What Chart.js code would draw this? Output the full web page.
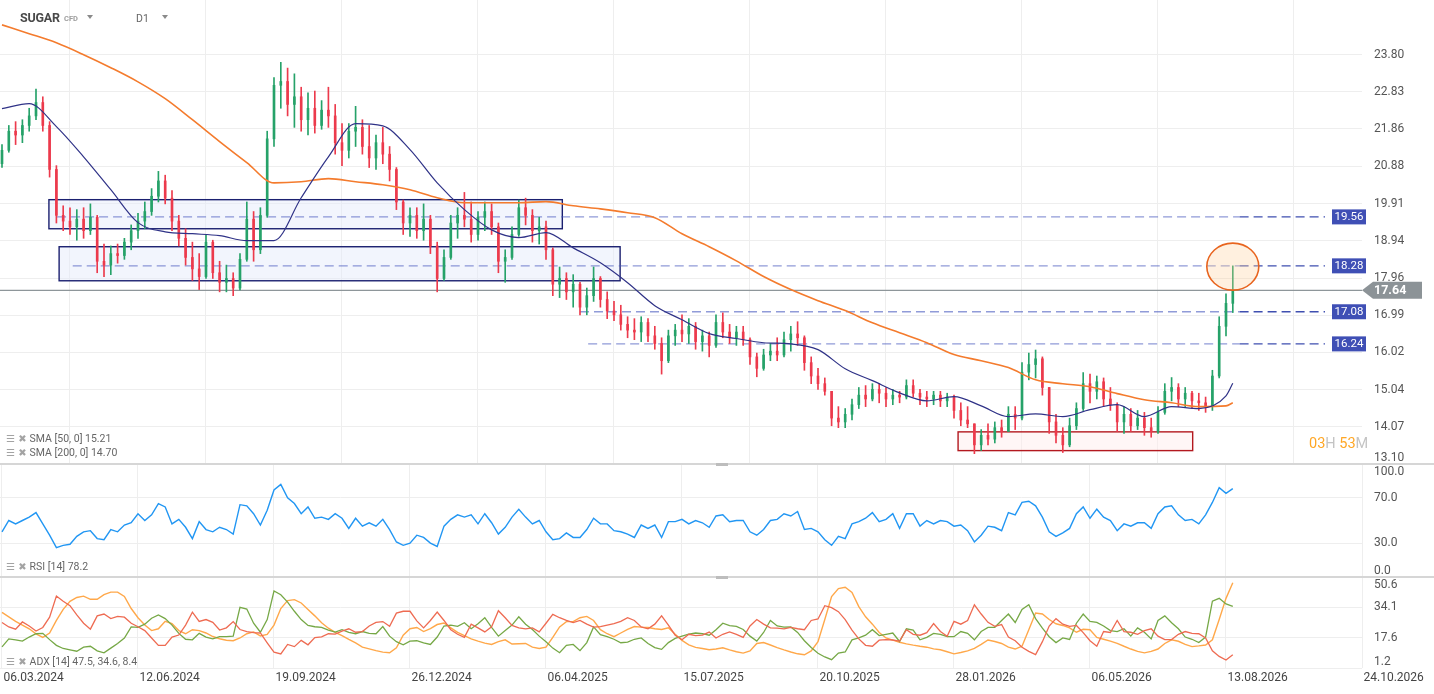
<!DOCTYPE html>
<html>
<head>
<meta charset="utf-8">
<script src="https://cdn.jsdelivr.net/npm/chart.js@4.4.1/dist/chart.umd.min.js"></script>
<style>
  html, body { margin: 0; padding: 0; background: #fff; }
  body { width: 1434px; height: 694px; position: relative; overflow: hidden; font-family: Roboto, "DejaVu Sans", sans-serif; }
  .pane { position: absolute; left: 0; width: 1434px; }
  #main-pane { top: 0; height: 464px; }
  #rsi-pane { top: 464px; height: 113px; }
  #adx-pane { top: 577px; height: 117px; }
  .sep { position: absolute; left: 0; width: 1434px; height: 2px; background: #d6d6d6; }
  .handle { position: absolute; left: 716px; width: 12px; height: 3px; background: #bdbdbd; }
  .txt { position: absolute; white-space: nowrap; line-height: 1; }
  .legend { left: 6px; font-size: 10.5px; color: #666; }
  .legend .ic { color: #a3a3a3; font-family: "DejaVu Sans", sans-serif; font-size: 10px; margin-right: 3px; }
  .caret { position: absolute; width: 0; height: 0; border-left: 3.5px solid transparent; border-right: 3.5px solid transparent; border-top: 4px solid #8a8a8a; }
</style>
</head>
<body>
<div class="pane" id="main-pane"><canvas id="main-chart"></canvas></div>
<div class="pane" id="rsi-pane"><canvas id="rsi-chart"></canvas></div>
<div class="pane" id="adx-pane"><canvas id="adx-chart"></canvas></div>

<div class="sep" style="top:463px"></div>
<div class="sep" style="top:576px"></div>
<div class="handle" style="top:463px"></div>
<div class="handle" style="top:576px"></div>

<div class="txt" style="left:20px; top:12px; font-size:12.5px; font-weight:bold; color:#4a4a4a; letter-spacing:-0.2px;">SUGAR</div>
<div class="txt" style="left:64px; top:15px; font-size:7.5px; font-weight:bold; color:#9e9e9e;">CFD</div>
<div class="caret" style="left:87px; top:15px;"></div>
<div class="txt" style="left:136px; top:14px; font-size:10.5px; color:#666;">D1</div>
<div class="caret" style="left:162px; top:15px;"></div>

<div class="txt legend" style="top:434px"><span class="ic">☰ ✖</span>SMA [50, 0] 15.21</div>
<div class="txt legend" style="top:448px"><span class="ic">☰ ✖</span>SMA [200, 0] 14.70</div>
<div class="txt legend" style="top:562px"><span class="ic">☰ ✖</span>RSI [14] 78.2</div>
<div class="txt legend" style="top:657px"><span class="ic">☰ ✖</span>ADX [14] 47.5, 34.6, 8.4</div>

<div class="txt" style="left:1309px; top:437px; font-size:14.5px;"><span style="color:#ffa726">03</span><span style="color:#c4c4c4">H </span><span style="color:#ffa726">53</span><span style="color:#c4c4c4">M</span></div>

<script>
// tick labels
const dateLabels = ["06.03.2024", "12.06.2024", "19.09.2024", "26.12.2024", "06.04.2025", "15.07.2025",
  "20.10.2025", "28.01.2026", "06.05.2026", "13.08.2026", "24.10.2026"];
const priceTicks = [23.80, 22.83, 21.86, 20.88, 19.91, 18.94, 17.96, 16.99, 16.02, 15.04, 14.07, 13.10];
const rsiTicks = [100, 70, 30, 0];
const adxTicks = [50.6, 34.1, 17.6, 1.2];

// candles (one every ~3.5 sessions)
const opens = [
  20.95, 21.30, 21.80, 21.70, 21.95, 22.20, 22.55, 21.95, 20.80, 19.60,
  19.45, 19.30, 19.50, 19.20, 19.55, 18.40, 18.30, 18.60, 18.55, 18.90,
  19.20, 19.45, 19.70, 20.10, 20.50, 20.05, 19.45, 19.00, 18.50, 18.20,
  18.00, 18.90, 18.10, 17.85, 17.95, 17.70, 18.45, 19.50, 18.70, 19.60,
  21.60, 23.00, 23.10, 22.50, 22.70, 22.10, 22.40, 21.95, 22.35, 22.20,
  21.50, 21.30, 21.80, 21.90, 21.40, 21.10, 21.50, 21.20, 20.80, 19.95,
  19.40, 19.60, 19.20, 19.50, 18.80, 17.95, 18.50, 19.40, 19.60, 19.50,
  19.10, 19.55, 19.70, 19.30, 18.40, 18.50, 19.10, 19.80, 19.60, 19.20,
  19.30, 18.70, 17.80, 17.95, 17.60, 17.80, 17.20, 17.50, 17.95, 17.40,
  17.10, 17.00, 16.75, 16.60, 16.55, 16.80, 16.45, 16.25, 15.80, 16.45,
  16.60, 16.50, 16.70, 16.30, 16.45, 16.20, 16.80, 16.55, 16.40, 16.55,
  16.35, 15.90, 15.60, 15.95, 16.05, 15.95, 16.35, 16.50, 16.40, 15.75,
  15.40, 15.20, 15.00, 14.30, 14.20, 14.40, 14.65, 14.90, 14.80, 15.05,
  14.95, 14.80, 14.90, 14.85, 15.15, 14.95, 14.85, 14.80, 14.90, 14.75,
  14.85, 14.50, 14.25, 14.15, 13.60, 13.85, 13.75, 14.05, 13.95, 14.40,
  14.30, 15.50, 15.70, 15.85, 15.10, 14.20, 13.85, 13.60, 14.10, 14.55,
  15.20, 15.00, 15.25, 14.80, 14.65, 14.20, 14.40, 14.10, 14.30, 14.05,
  13.95, 14.45, 15.00, 15.10, 14.80, 14.95, 14.75, 14.70, 14.60, 15.40,
  16.70, 17.30
];
const highs = [
  21.45, 21.95, 22.05, 22.10, 22.40, 22.90, 22.70, 22.05, 20.90, 19.85,
  19.80, 19.75, 19.80, 19.90, 19.60, 18.85, 18.80, 18.85, 19.00, 19.35,
  19.65, 19.95, 20.30, 20.75, 20.65, 20.25, 19.60, 19.25, 18.90, 18.60,
  19.10, 18.95, 18.40, 18.30, 18.10, 18.60, 19.95, 19.70, 19.80, 21.80,
  23.20, 23.60, 23.45, 23.30, 22.95, 22.80, 22.85, 22.60, 22.95, 22.50,
  22.00, 22.00, 22.45, 22.10, 21.95, 21.70, 21.90, 21.40, 20.85, 20.00,
  19.80, 19.80, 19.90, 19.60, 18.90, 18.70, 19.60, 19.80, 20.20, 19.95,
  19.70, 19.95, 19.90, 19.40, 18.70, 19.30, 20.00, 20.05, 19.75, 19.55,
  19.45, 18.75, 18.25, 18.10, 18.05, 17.85, 17.70, 18.25, 18.00, 17.60,
  17.35, 17.25, 16.95, 16.90, 16.95, 16.90, 16.70, 16.40, 16.60, 16.75,
  17.00, 16.90, 16.80, 16.60, 16.55, 17.00, 17.05, 16.75, 16.70, 16.70,
  16.40, 16.00, 16.10, 16.25, 16.40, 16.55, 16.70, 16.82, 16.45, 15.90,
  15.60, 15.35, 15.00, 14.60, 14.55, 14.80, 15.10, 15.15, 15.20, 15.20,
  15.10, 15.05, 15.00, 15.30, 15.30, 15.05, 15.00, 15.00, 15.00, 14.95,
  14.90, 14.70, 14.60, 14.15, 14.00, 14.15, 14.20, 14.25, 14.60, 14.60,
  15.75, 16.00, 16.08, 15.90, 15.10, 14.40, 14.05, 14.30, 14.70, 15.49,
  15.45, 15.40, 15.35, 15.10, 14.70, 14.60, 14.55, 14.50, 14.45, 14.30,
  14.60, 15.20, 15.36, 15.20, 15.10, 15.00, 14.95, 14.85, 15.55, 16.95,
  17.55, 18.28
];
const lows = [
  20.85, 21.25, 21.45, 21.50, 21.80, 22.10, 21.80, 20.60, 19.40, 19.20,
  19.10, 18.95, 19.00, 19.10, 18.10, 18.00, 18.05, 18.35, 18.45, 18.70,
  19.00, 19.25, 19.60, 19.95, 19.90, 19.20, 18.80, 18.30, 17.90, 17.66,
  17.95, 17.95, 17.60, 17.60, 17.50, 17.65, 18.40, 18.40, 18.60, 19.55,
  21.40, 22.40, 22.20, 21.90, 21.80, 21.70, 21.75, 21.85, 21.90, 21.20,
  20.90, 21.10, 21.40, 21.20, 20.85, 20.80, 20.95, 20.50, 19.75, 19.10,
  19.05, 19.00, 18.95, 18.60, 17.60, 17.90, 18.45, 19.00, 19.30, 18.90,
  18.95, 19.20, 19.10, 18.10, 17.85, 18.45, 19.05, 19.35, 18.90, 18.85,
  18.45, 17.50, 17.45, 17.40, 17.20, 17.00, 17.00, 17.35, 17.20, 16.90,
  16.85, 16.60, 16.40, 16.35, 16.30, 16.30, 16.10, 15.45, 15.75, 16.20,
  16.30, 16.25, 16.10, 16.05, 15.90, 16.15, 16.40, 16.25, 16.20, 16.20,
  15.70, 15.38, 15.55, 15.80, 15.80, 15.90, 16.05, 16.20, 15.55, 15.20,
  15.05, 14.90, 14.10, 14.05, 14.05, 14.25, 14.55, 14.60, 14.75, 14.70,
  14.60, 14.65, 14.70, 14.80, 14.85, 14.65, 14.60, 14.65, 14.60, 14.60,
  14.30, 14.10, 14.05, 13.37, 13.45, 13.60, 13.65, 13.80, 13.95, 14.00,
  14.25, 15.30, 15.35, 14.90, 13.90, 13.65, 13.40, 13.55, 14.00, 14.50,
  14.70, 14.80, 14.60, 14.50, 13.95, 13.90, 13.95, 14.00, 13.85, 13.80,
  13.90, 14.40, 14.75, 14.60, 14.60, 14.55, 14.50, 14.45, 14.50, 15.35,
  16.45, 17.06
];
const closes = [
  21.30, 21.80, 21.70, 21.95, 22.20, 22.55, 21.95, 20.80, 19.60, 19.45,
  19.30, 19.50, 19.20, 19.55, 18.40, 18.30, 18.60, 18.55, 18.90, 19.20,
  19.45, 19.70, 20.10, 20.50, 20.05, 19.45, 19.00, 18.50, 18.20, 18.00,
  18.90, 18.10, 17.85, 17.95, 17.70, 18.45, 19.50, 18.70, 19.60, 21.60,
  23.00, 23.10, 22.50, 22.70, 22.10, 22.40, 21.95, 22.35, 22.20, 21.50,
  21.30, 21.80, 21.90, 21.40, 21.10, 21.50, 21.20, 20.80, 19.95, 19.40,
  19.60, 19.20, 19.50, 18.80, 17.95, 18.50, 19.40, 19.60, 19.50, 19.10,
  19.55, 19.70, 19.30, 18.40, 18.50, 19.10, 19.80, 19.60, 19.20, 19.30,
  18.70, 17.80, 17.95, 17.60, 17.80, 17.20, 17.50, 17.95, 17.40, 17.10,
  17.00, 16.75, 16.60, 16.55, 16.80, 16.45, 16.25, 15.80, 16.45, 16.60,
  16.50, 16.70, 16.30, 16.45, 16.20, 16.80, 16.55, 16.40, 16.55, 16.35,
  15.90, 15.60, 15.95, 16.05, 15.95, 16.35, 16.50, 16.40, 15.75, 15.40,
  15.20, 15.00, 14.30, 14.20, 14.40, 14.65, 14.90, 14.80, 15.05, 14.95,
  14.80, 14.90, 14.85, 15.15, 14.95, 14.85, 14.80, 14.90, 14.75, 14.85,
  14.50, 14.25, 14.15, 13.60, 13.85, 13.75, 14.05, 13.95, 14.40, 14.30,
  15.50, 15.70, 15.85, 15.10, 14.20, 13.85, 13.60, 14.10, 14.55, 15.20,
  15.00, 15.25, 14.80, 14.65, 14.20, 14.40, 14.10, 14.30, 14.05, 13.95,
  14.45, 15.00, 15.10, 14.80, 14.95, 14.75, 14.70, 14.60, 15.40, 16.70,
  17.30, 17.64
];

// moving averages, one value every 4 candles (last one = last candle)
const sma50 = [22.39, 22.52, 21.92, 21.13, 20.27, 19.41, 19.17, 19.12, 19.07, 18.94,
  18.94, 20.06, 21.13, 22.00, 21.94, 21.32, 20.45, 19.75, 19.22, 19.02,
  19.15, 18.75, 18.36, 17.84, 17.24, 16.87, 16.51, 16.38, 16.27, 16.24,
  16.09, 15.59, 15.28, 14.96, 14.75, 14.86, 14.62, 14.34, 14.41, 14.34,
  14.52, 14.65, 14.34, 14.60, 14.55, 14.88, 15.21];
const sma200 = [24.58, 24.35, 24.11, 23.80, 23.46, 23.09, 22.65, 22.10, 21.53, 20.98,
  20.45, 20.48, 20.56, 20.48, 20.40, 20.27, 20.06, 19.93, 19.93, 19.93,
  19.96, 19.85, 19.77, 19.67, 19.54, 19.12, 18.78, 18.41, 18.00, 17.66,
  17.37, 17.11, 16.79, 16.53, 16.27, 15.96, 15.80, 15.62, 15.30, 15.20,
  15.12, 14.94, 14.78, 14.70, 14.60, 14.62, 14.70];

const rsi = [
  40, 50, 47, 50, 53, 57, 47, 37, 26, 28,
  29, 36, 40, 41, 34, 33, 42, 40, 46, 48,
  56, 50, 55, 65, 62, 47, 51, 44, 34, 49,
  42, 40, 44, 42, 38, 64, 63, 56, 46, 59,
  77, 82, 70, 65, 56, 62, 52, 53, 51, 56,
  52, 43, 52, 45, 48, 45, 51, 42, 31, 28,
  30, 37, 35, 30, 27, 45, 51, 55, 53, 55,
  47, 56, 48, 38, 44, 53, 60, 53, 47, 50,
  40, 33, 34, 39, 35, 35, 42, 52, 47, 47,
  41, 40, 38, 35, 46, 43, 46, 35, 49, 49,
  51, 47, 50, 48, 44, 54, 55, 49, 50, 50,
  40, 37, 42, 50, 51, 56, 54, 58, 42, 43,
  40, 33, 28, 36, 34, 47, 49, 52, 57, 49,
  51, 56, 43, 56, 56, 45, 50, 47, 50, 49,
  45, 46, 41, 31, 37, 45, 44, 41, 57, 55,
  66, 67, 63, 53, 40, 36, 39, 43, 56, 62,
  52, 60, 53, 50, 41, 47, 45, 48, 48, 43,
  56, 62, 63, 55, 50, 51, 47, 55, 66, 79,
  74, 78.2
];
const adx = [
  31.4, 29.0, 26.5, 24.5, 22.5, 19.7, 17.8, 20.2, 27.0, 33.0,
  37.4, 39.5, 40.2, 38.5, 38.5, 41.0, 42.4, 42.4, 40.0, 33.5,
  28.5, 24.5, 21.5, 22.5, 26.5, 25.3, 21.5, 19.8, 22.0, 21.5,
  20.2, 18.3, 17.1, 16.3, 16.0, 17.5, 19.8, 20.8, 18.6, 19.4,
  24.5, 33.5, 37.8, 38.3, 36.5, 33.0, 29.5, 25.8, 22.8, 20.5,
  18.8, 16.7, 14.8, 12.5, 11.6, 10.6, 9.8, 9.5, 12.2, 19.0,
  22.5, 23.2, 21.0, 22.6, 24.8, 25.6, 23.0, 20.5, 18.8, 17.0,
  15.8, 14.7, 14.0, 15.5, 16.5, 14.2, 14.4, 14.5, 12.5, 11.8,
  12.5, 17.8, 23.5, 26.4, 26.4, 28.5, 29.2, 27.0, 22.0, 19.8,
  18.2, 20.2, 22.2, 23.7, 23.4, 23.2, 22.5, 22.1, 23.0, 19.5,
  16.2, 13.8, 12.4, 11.8, 11.1, 11.5, 12.2, 11.0, 10.0, 9.3,
  10.5, 14.5, 15.0, 13.7, 12.3, 11.0, 9.9, 8.9, 8.4, 10.5,
  15.5, 27.5, 40.0, 44.3, 45.0, 42.2, 34.5, 29.0, 25.0, 20.5,
  17.5, 16.3, 15.2, 14.3, 13.6, 13.0, 12.5, 11.6, 11.1, 10.0,
  8.9, 9.6, 10.5, 11.8, 14.0, 16.4, 15.6, 14.5, 12.5, 11.5,
  13.0, 22.0, 31.0, 30.5, 27.5, 25.2, 24.3, 23.0, 20.6, 22.2,
  22.0, 17.8, 16.8, 15.8, 14.6, 13.0, 11.5, 10.2, 9.4, 10.2,
  11.5, 14.5, 16.5, 15.7, 14.0, 12.8, 13.2, 13.7, 16.5, 27.5,
  39.0, 47.5
];
const plusDI = [
  12.7, 17.0, 16.5, 15.8, 18.0, 19.8, 20.0, 16.6, 13.5, 11.8,
  11.1, 10.3, 12.5, 13.0, 10.5, 9.4, 12.0, 14.5, 17.5, 23.5,
  23.3, 25.0, 28.2, 30.0, 28.0, 24.5, 20.0, 16.8, 16.5, 20.0,
  18.0, 17.0, 18.2, 18.2, 18.5, 34.1, 33.2, 25.5, 20.6, 27.5,
  43.0, 41.0, 37.0, 32.0, 27.5, 24.3, 23.6, 23.3, 21.8, 20.7,
  22.0, 20.5, 19.8, 21.0, 20.0, 19.8, 23.7, 18.5, 15.5, 13.8,
  15.8, 16.0, 14.8, 14.0, 18.0, 24.0, 24.5, 23.8, 25.8, 22.5,
  25.2, 28.5, 23.2, 18.5, 21.5, 24.5, 29.0, 25.0, 22.1, 18.5,
  15.5, 12.0, 9.5, 13.5, 14.0, 10.6, 15.0, 23.5, 19.3, 18.2,
  16.8, 14.9, 15.3, 16.8, 17.5, 14.5, 12.3, 11.3, 15.0, 17.3,
  18.5, 19.6, 20.2, 19.8, 19.0, 22.0, 25.5, 24.2, 23.8, 22.1,
  18.5, 15.8, 20.5, 27.0, 24.0, 23.4, 23.5, 20.5, 16.0, 12.3,
  9.2, 7.2, 5.7, 9.3, 9.9, 16.5, 17.5, 19.0, 22.0, 18.8,
  19.5, 20.2, 15.6, 22.5, 21.8, 16.5, 17.8, 20.0, 19.5, 18.2,
  18.2, 21.0, 20.0, 16.5, 21.0, 23.2, 23.3, 27.0, 30.5, 25.9,
  33.0, 35.5, 28.0, 22.8, 18.2, 15.0, 17.5, 16.7, 25.5, 30.5,
  26.5, 26.0, 24.0, 21.5, 21.0, 22.5, 18.5, 23.0, 20.6, 17.0,
  27.0, 29.5, 25.8, 22.5, 18.0, 16.8, 15.0, 18.0, 37.5, 39.0,
  36.0, 34.6
];
const minusDI = [
  25.9, 23.5, 22.3, 26.2, 24.0, 21.3, 23.2, 28.8, 40.3, 37.4,
  35.0, 30.0, 25.5, 22.3, 29.5, 30.5, 28.0, 29.2, 28.8, 25.5,
  23.6, 21.5, 17.5, 13.5, 13.5, 18.0, 19.1, 24.5, 31.5, 26.5,
  27.5, 26.0, 21.8, 23.0, 26.4, 22.1, 21.0, 20.4, 20.2, 14.9,
  9.8, 8.8, 14.0, 12.8, 16.2, 13.8, 17.7, 18.1, 19.8, 19.6,
  21.2, 22.5, 20.6, 21.0, 24.0, 26.0, 26.4, 23.8, 31.0, 32.0,
  32.0, 26.8, 23.0, 27.0, 31.6, 27.0, 22.0, 19.5, 17.8, 25.0,
  23.0, 20.8, 23.6, 32.3, 28.5, 24.3, 23.0, 22.4, 23.0, 20.8,
  25.5, 30.3, 28.5, 27.0, 25.9, 27.0, 25.0, 23.4, 23.7, 24.5,
  25.3, 26.5, 28.5, 27.0, 23.5, 22.5, 25.0, 29.5, 24.5, 19.0,
  16.5, 19.5, 18.8, 19.0, 20.7, 17.5, 19.5, 20.8, 19.5, 17.8,
  24.0, 27.5, 25.0, 23.0, 22.8, 22.4, 23.2, 22.5, 22.0, 27.0,
  27.8, 35.0, 34.0, 31.8, 27.5, 21.8, 17.0, 13.5, 13.0, 16.3,
  16.6, 16.4, 15.8, 22.0, 19.5, 19.0, 20.4, 25.3, 21.0, 18.4,
  26.5, 25.0, 27.0, 35.5, 30.5, 26.0, 23.8, 24.8, 18.0, 16.0,
  12.5, 10.2, 8.5, 15.5, 24.0, 28.0, 25.0, 23.8, 24.3, 20.4,
  16.0, 13.0, 21.0, 20.5, 27.0, 21.0, 20.6, 19.5, 21.5, 22.5,
  18.5, 16.6, 16.6, 19.5, 21.0, 20.0, 19.8, 17.5, 10.5, 7.5,
  5.5, 8.4
];

// drawn levels and zones (x in candle units)
const levelPrices = [19.56, 18.28, 17.08, 16.24];
const levelStarts = [8.1, 10.4, 85, 86.2];
const lastPrice = 17.64;

const barsPerDate = 20;
const smaEvery = 4;
const xMin = -0.294;
const xMax = dateLabels.length * barsPerDate - barsPerDate;
const axisWidth = 72;
const gridColor = "#eeeeee";
const upColor = "#26a269";
const downColor = "#ec3a4c";

function pts(vals) {
  return vals.map((v, i) => ({ x: i, y: v }));
}
function smaPts(vals) {
  return vals.map((v, k) => ({ x: Math.min(k * smaEvery, closes.length - 1), y: v }));
}

// right-hand labels, kept inside the pane like the original platform does
const sideLabels = {
  id: "sideLabels",
  afterDraw(chart, args, opts) {
    const { ctx, chartArea } = chart;
    const scale = chart.scales.y;
    ctx.save();
    ctx.font = "12px Roboto";
    ctx.fillStyle = "#555";
    ctx.textAlign = "left";
    ctx.textBaseline = "middle";
    opts.values.forEach(v => {
      let y = scale.getPixelForValue(v);
      y = Math.min(Math.max(y, chartArea.top + 8), chartArea.bottom - 6);
      ctx.fillText(v.toFixed(opts.digits), chartArea.right + 12, y);
    });
    ctx.restore();
  }
};

const dateAxis = {
  id: "dateAxis",
  afterDraw(chart) {
    const { ctx, chartArea } = chart;
    const x = chart.scales.x;
    ctx.save();
    ctx.font = "12px Roboto";
    ctx.fillStyle = "#444";
    ctx.textAlign = "left";
    ctx.textBaseline = "middle";
    dateLabels.forEach((d, k) => {
      ctx.fillText(d, x.getPixelForValue(k * barsPerDate) + 1.5, chartArea.bottom + 10);
    });
    ctx.restore();
  }
};

// boxes, dashed levels, price tags and the circle on the main pane
const drawings = {
  id: "drawings",
  beforeDatasetsDraw(chart) {
    const { ctx, chartArea } = chart;
    const x = chart.scales.x, y = chart.scales.y;
    const zones = [
      { x0: 6.9, x1: 82.4, p0: 20.01, p1: 19.25, stroke: "#1b2070", fill: "rgba(226,232,250,0.45)" },
      { x0: 8.4, x1: 90.9, p0: 18.78, p1: 17.89, stroke: "#1b2070", fill: "rgba(226,232,250,0.45)" },
      { x0: 140.6, x1: 175.1, p0: 13.94, p1: 13.45, stroke: "#b3191f", fill: "rgba(255,236,236,0.45)" }
    ];
    ctx.save();
    zones.forEach(z => {
      const l = x.getPixelForValue(z.x0), r = x.getPixelForValue(z.x1);
      const t = y.getPixelForValue(z.p0), b = y.getPixelForValue(z.p1);
      ctx.fillStyle = z.fill;
      ctx.fillRect(l, t, r - l, b - t);
      ctx.strokeStyle = z.stroke;
      ctx.lineWidth = 1.4;
      ctx.strokeRect(l, t, r - l, b - t);
    });

    const lineEnd = chartArea.right - 37;
    ctx.setLineDash([9, 5]);
    ctx.lineWidth = 1.4;
    levelPrices.forEach((p, k) => {
      const py = y.getPixelForValue(p);
      ctx.strokeStyle = "rgba(70,88,190,0.6)";
      ctx.beginPath();
      ctx.moveTo(x.getPixelForValue(levelStarts[k]), py);
      ctx.lineTo(x.getPixelForValue(closes.length), py);
      ctx.stroke();
      ctx.strokeStyle = "#3f4fb0";
      ctx.beginPath();
      ctx.moveTo(x.getPixelForValue(closes.length), py);
      ctx.lineTo(lineEnd, py);
      ctx.stroke();
    });
    ctx.setLineDash([]);

    const cy = y.getPixelForValue(lastPrice);
    ctx.strokeStyle = "#8e969a";
    ctx.lineWidth = 1.2;
    ctx.beginPath();
    ctx.moveTo(chartArea.left, cy);
    ctx.lineTo(chartArea.right, cy);
    ctx.stroke();
    ctx.restore();
  },
  afterDatasetsDraw(chart) {
    const { ctx, chartArea } = chart;
    const x = chart.scales.x, y = chart.scales.y;
    ctx.save();

    // circle round the last spike
    const ex = x.getPixelForValue(181), ey = y.getPixelForValue(18.26);
    ctx.beginPath();
    ctx.ellipse(ex, ey, 26, 23.5, 0, 0, Math.PI * 2);
    ctx.fillStyle = "rgba(255,205,150,0.3)";
    ctx.fill();
    ctx.strokeStyle = "#e8641e";
    ctx.lineWidth = 1.6;
    ctx.stroke();

    ctx.font = "11.5px Roboto";
    ctx.textAlign = "center";
    ctx.textBaseline = "middle";
    levelPrices.forEach(p => {
      const py = y.getPixelForValue(p);
      ctx.fillStyle = "#3f4fb5";
      ctx.fillRect(chartArea.right - 30, py - 7.5, 34, 15);
      ctx.fillStyle = "#fff";
      ctx.fillText(p.toFixed(2), chartArea.right - 13, py + 0.5);
    });

    const cy = y.getPixelForValue(lastPrice);
    const r = chartArea.right;
    ctx.fillStyle = "#8c9397";
    ctx.beginPath();
    ctx.moveTo(r, cy);
    ctx.lineTo(r + 11, cy - 8.5);
    ctx.lineTo(r + 60, cy - 8.5);
    ctx.lineTo(r + 60, cy + 8.5);
    ctx.lineTo(r + 11, cy + 8.5);
    ctx.closePath();
    ctx.fill();
    ctx.fillStyle = "#fff";
    ctx.font = "bold 12.5px Roboto";
    ctx.textAlign = "left";
    ctx.fillText(lastPrice.toFixed(2), r + 12, cy + 0.5);
    ctx.restore();
  }
};

function paneOptions(yMin, yMax, yTicks, digits, bottomPad) {
  return {
    responsive: true,
    maintainAspectRatio: false,
    animation: false,
    events: [],
    layout: { padding: { left: 0, right: 0, top: 0, bottom: bottomPad } },
    plugins: {
      legend: { display: false },
      tooltip: { enabled: false },
      sideLabels: { values: yTicks, digits: digits }
    },
    scales: {
      x: {
        type: "linear",
        min: xMin,
        max: xMax,
        offset: false,
        grid: { color: gridColor, drawTicks: false },
        border: { display: false },
        ticks: { display: false },
        afterBuildTicks: s => { s.ticks = dateLabels.map((d, k) => ({ value: k * barsPerDate })); },
        afterFit: s => { s.height = 0; }
      },
      y: {
        position: "right",
        min: yMin,
        max: yMax,
        grid: { color: gridColor, drawTicks: false },
        border: { display: false },
        ticks: { display: false },
        afterBuildTicks: s => { s.ticks = yTicks.map(v => ({ value: v })); },
        afterFit: s => { s.width = axisWidth; }
      }
    }
  };
}

function drawMainChart() {
  const wickData = lows.map((l, i) => ({ x: i, y: [l, highs[i]] }));
  const bodyData = opens.map((o, i) => ({ x: i, y: [o, closes[i]] }));
  const candleColor = ctx => closes[ctx.dataIndex] >= opens[ctx.dataIndex] ? upColor : downColor;

  return new Chart(document.getElementById("main-chart"), {
    type: "bar",
    data: {
      datasets: [
        { type: "line", label: "SMA 50", data: smaPts(sma50), borderColor: "#2f3287", borderWidth: 1.2,
          pointRadius: 0, cubicInterpolationMode: "monotone" },
        { type: "line", label: "SMA 200", data: smaPts(sma200), borderColor: "#f47b2d", borderWidth: 1.6,
          pointRadius: 0, cubicInterpolationMode: "monotone" },
        { label: "bodies", data: bodyData, backgroundColor: candleColor, barThickness: 2, grouped: false, minBarLength: 1 },
        { label: "wicks", data: wickData, backgroundColor: candleColor, barThickness: 1, grouped: false }
      ]
    },
    options: paneOptions(13.10, 25.23, priceTicks, 2, 0),
    plugins: [drawings, sideLabels]
  });
}

function drawRsiChart() {
  return new Chart(document.getElementById("rsi-chart"), {
    type: "line",
    data: {
      datasets: [
        { label: "RSI", data: pts(rsi), borderColor: "#2196f3", borderWidth: 1.4, pointRadius: 0 }
      ]
    },
    options: paneOptions(0, 100, rsiTicks, 1, 0),
    plugins: [sideLabels]
  });
}

function drawAdxChart() {
  return new Chart(document.getElementById("adx-chart"), {
    type: "line",
    data: {
      datasets: [
        { label: "-DI", data: pts(minusDI), borderColor: "#ee6b52", borderWidth: 1.3, pointRadius: 0 },
        { label: "+DI", data: pts(plusDI), borderColor: "#76a846", borderWidth: 1.3, pointRadius: 0 },
        { label: "ADX", data: pts(adx), borderColor: "#ffa84a", borderWidth: 1.4, pointRadius: 0 }
      ]
    },
    options: paneOptions(1.2, 50.6, adxTicks, 1, 26),
    plugins: [sideLabels, dateAxis]
  });
}

drawMainChart();
drawRsiChart();
drawAdxChart();
</script>
</body>
</html>
